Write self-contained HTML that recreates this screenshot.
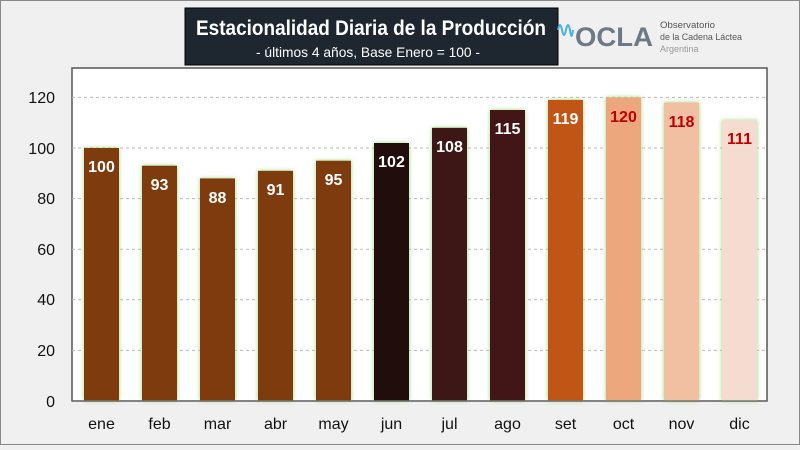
<!DOCTYPE html>
<html><head><meta charset="utf-8"><style>
body{margin:0;width:800px;height:445px;overflow:hidden;background:#f0f0f0;font-family:"Liberation Sans",sans-serif}
</style></head><body>
<svg width="800" height="445" xmlns="http://www.w3.org/2000/svg" font-family="Liberation Sans, sans-serif">
<defs>
<filter id="g" x="-30%" y="-10%" width="160%" height="120%"><feDropShadow dx="0" dy="0" stdDeviation="2" flood-color="#8fd46a" flood-opacity="0.9"/></filter>
</defs>
<rect x="0.5" y="0.5" width="799" height="444" fill="#f0f0f0" stroke="#888"/>
<rect x="72" y="68" width="695" height="333" fill="#fff" stroke="#555" stroke-width="1.5"/>
<g stroke="#bbb" stroke-dasharray="3,3">
<line x1="72" x2="767" y1="97.4" y2="97.4"/><line x1="72" x2="767" y1="148" y2="148"/><line x1="72" x2="767" y1="198.6" y2="198.6"/><line x1="72" x2="767" y1="249.2" y2="249.2"/><line x1="72" x2="767" y1="299.8" y2="299.8"/><line x1="72" x2="767" y1="350.4" y2="350.4"/>
</g>
<g font-size="16" fill="#111" text-anchor="end">
<text x="55" y="103">120</text><text x="55" y="154">100</text><text x="55" y="204">80</text><text x="55" y="255">60</text><text x="55" y="305">40</text><text x="55" y="356">20</text><text x="55" y="407">0</text>
</g>
<g filter="url(#g)">
<rect x="84" y="148" width="35" height="253" fill="#7e3a0f"/>
<rect x="142" y="165.7" width="35" height="235.3" fill="#7e3a0f"/>
<rect x="200" y="178.4" width="35" height="222.6" fill="#7e3a0f"/>
<rect x="258" y="170.8" width="35" height="230.2" fill="#7e3a0f"/>
<rect x="316" y="160.7" width="35" height="240.3" fill="#7e3a0f"/>
<rect x="374" y="143" width="35" height="258" fill="#210b0b"/>
<rect x="432" y="127.8" width="35" height="273.2" fill="#3c1517"/>
<rect x="490" y="110" width="35" height="291" fill="#421819"/>
<rect x="548" y="99.9" width="35" height="301.1" fill="#c05512"/>
<rect x="606" y="97.4" width="35" height="303.6" fill="#eda77b"/>
<rect x="664" y="102.5" width="35" height="298.5" fill="#f1c0a2"/>
<rect x="722" y="120.3" width="35" height="280.7" fill="#f4ddd0"/>
</g>
<line x1="72" x2="767" y1="401" y2="401" stroke="#777" stroke-width="1.5"/>
<g font-size="16" font-weight="bold" text-anchor="middle" fill="#fff">
<text x="101.5" y="172">100</text><text x="159.5" y="190">93</text><text x="217.5" y="203">88</text><text x="275.5" y="195">91</text><text x="333.5" y="185">95</text><text x="391.5" y="167">102</text><text x="449.5" y="152">108</text><text x="507.5" y="134">115</text><text x="565.5" y="124">119</text>
<g fill="#c00000"><text x="623.5" y="122">120</text><text x="681.5" y="127">118</text><text x="739.5" y="144">111</text></g>
</g>
<g font-size="16" fill="#111" text-anchor="middle">
<text x="101.5" y="429">ene</text><text x="159.5" y="429">feb</text><text x="217.5" y="429">mar</text><text x="275.5" y="429">abr</text><text x="333.5" y="429">may</text><text x="391.5" y="429">jun</text><text x="449.5" y="429">jul</text><text x="507.5" y="429">ago</text><text x="565.5" y="429">set</text><text x="623.5" y="429">oct</text><text x="681.5" y="429">nov</text><text x="739.5" y="429">dic</text>
</g>
<rect x="185" y="8" width="373" height="57" fill="#1e2730" stroke="#000"/>
<text x="196" y="35" font-size="21" font-weight="bold" fill="#fff" textLength="350" lengthAdjust="spacingAndGlyphs">Estacionalidad Diaria de la Producción</text>
<text x="256" y="57" font-size="14" fill="#fff" textLength="224" lengthAdjust="spacingAndGlyphs">- últimos 4 años, Base Enero = 100 -</text>
<path d="M558 30 q2 -10 4 0 q2 10 4 0 q2 -10 4 0 q1.5 12 3 0" fill="none" stroke="#4ab3d6" stroke-width="2"/>
<text x="575" y="46" font-size="27" font-weight="bold" fill="#6d7a86" textLength="78" lengthAdjust="spacingAndGlyphs">OCLA</text>
<text x="660" y="28" font-size="9.5" fill="#555" textLength="55" lengthAdjust="spacingAndGlyphs">Observatorio</text>
<text x="660" y="40" font-size="9.5" fill="#555" textLength="82" lengthAdjust="spacingAndGlyphs">de la Cadena Láctea</text>
<text x="660" y="52" font-size="9" fill="#999">Argentina</text>
</svg>
</body></html>
